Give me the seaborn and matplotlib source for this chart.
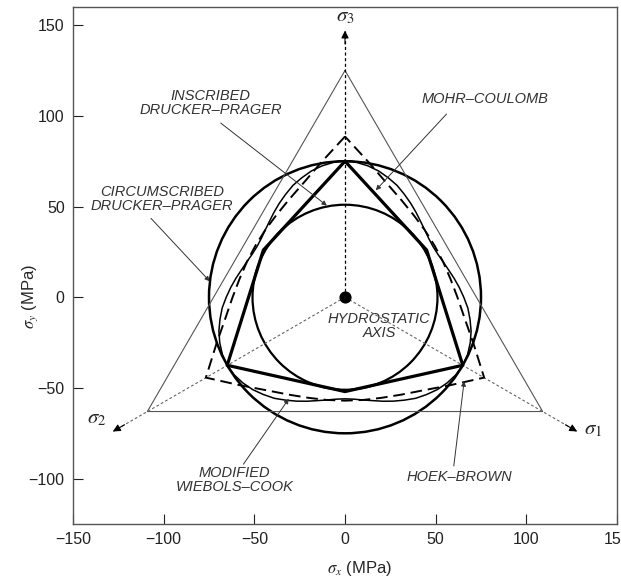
import numpy as np
import pandas as pd
import matplotlib
matplotlib.use('Agg')
import matplotlib.pyplot as plt
from matplotlib.patches import Circle
import seaborn as sns

# Дані (МПа)
# тонкий трикутник
tri_x = [0, -109, 109, 0]
tri_y = [125, -63, -63, 125]

# Мор-Кулон: кути (град) та радіуси вершин шестикутника
mc_ang = [90, 150, 210, 270, 330, 390, 450]
mc_r = [75, 52, 75, 52, 75, 52, 75]

# радіуси кругів Друкера-Прагера
dp_circ_r = 75
dp_insc_r = 51

# модифікований Вібольс-Кук: радіуси через 5 град, від вершини до вершини
mwc_ang = list(range(90, 451, 5))
mwc_sector = [75, 74.6, 73.5, 72, 70, 68, 65.5, 63.2, 61, 59, 57.5, 56.4,
              56, 56.4, 57.5, 59, 61, 63.2, 65.5, 68, 70, 72, 73.5, 74.6]
mwc_r = mwc_sector * 3 + [75]

# Хук-Браун: радіуси через 10 град
hb_ang = list(range(90, 451, 10))
hb_sector = [88.6, 75.5, 67, 62, 59, 57.5, 57, 57.5, 59, 62, 67, 75.5]
hb_r = hb_sector * 3 + [88.6]

# осі головних напружень (кінці стрілок)
axis_names = ['$\\sigma_3$', '$\\sigma_1$', '$\\sigma_2$']
axis_tip_x = [0, 128, -128]
axis_tip_y = [147, -74, -74]
axis_lab_x = [0, 137, -137]
axis_lab_y = [155, -73, -67]

# підписи та виноски
labels = ['INSCRIBED\nDRUCKER\u2013PRAGER', 'CIRCUMSCRIBED\nDRUCKER\u2013PRAGER',
          'MOHR\u2013COULOMB', 'MODIFIED\nWIEBOLS\u2013COOK', 'HOEK\u2013BROWN']
label_x = [-74, -101, 77, -61, 63]
label_y = [107, 54, 109.5, -101, -99]
lead_from_x = [-68.5, -107, 56, -56, 60]
lead_from_y = [96, 43.5, 101, -92, -93]
lead_to_x = [-10, -74.6, 17, -31, 65.7]
lead_to_y = [50.5, 8.8, 59, -56, -46.3]


def polar_df(ang, r):
    a = np.deg2rad(np.array(ang, dtype=float))
    r = np.array(r, dtype=float)
    return pd.DataFrame({'x': r * np.cos(a), 'y': r * np.sin(a)})


sns.set_theme(style='ticks')
plt.rcParams['font.family'] = ['Liberation Sans', 'DejaVu Sans']
plt.rcParams['mathtext.fontset'] = 'stix'

fig = plt.figure(figsize=(6.21, 5.80), dpi=100)
ax = fig.add_axes([73 / 621, 1 - 524 / 580, 544 / 621, 517 / 580])

# тонкий трикутник
sns.lineplot(x=tri_x, y=tri_y, sort=False, estimator=None, color='#555555',
             lw=0.8, ax=ax)

# гідростатичні осі
ax.plot([0, axis_tip_x[0]], [0, axis_tip_y[0]], color='black', lw=0.9,
        linestyle=(0, (2.5, 2)))
for tx, ty in zip(axis_tip_x[1:], axis_tip_y[1:]):
    ax.plot([0, tx], [0, ty], color='#666666', lw=0.8, linestyle=(0, (2.5, 2)))
for tx, ty in zip(axis_tip_x, axis_tip_y):
    ax.annotate('', xy=(tx, ty), xytext=(tx * 0.95, ty * 0.95),
                arrowprops=dict(arrowstyle='-|>', color='black', lw=0.8,
                                mutation_scale=11, shrinkA=0, shrinkB=0))
for name, lx, ly in zip(axis_names, axis_lab_x, axis_lab_y):
    ax.text(lx, ly, name, fontsize=15, ha='center', va='center')

# круги Друкера-Прагера
ax.add_patch(Circle((0, 0), dp_circ_r, fill=False, ec='black', lw=1.8))
ax.add_patch(Circle((0, 0), dp_insc_r, fill=False, ec='black', lw=1.6))

# модифікований Вібольс-Кук
mwc = polar_df(mwc_ang, mwc_r)
sns.lineplot(data=mwc, x='x', y='y', sort=False, estimator=None,
             color='black', lw=1.1, ax=ax)

# Хук-Браун
hb = polar_df(hb_ang, hb_r)
sns.lineplot(data=hb, x='x', y='y', sort=False, estimator=None,
             color='black', lw=1.4, linestyle=(0, (6, 3)), ax=ax)

# Мор-Кулон
mc = polar_df(mc_ang, mc_r)
sns.lineplot(data=mc, x='x', y='y', sort=False, estimator=None,
             color='black', lw=2.3, ax=ax)

# точка на гідростатичній осі
ax.scatter([0], [0], s=60, color='black', zorder=5)
ax.text(18.8, -16, 'HYDROSTATIC\nAXIS', fontsize=10.5, style='italic',
        color='#333333', ha='center', va='center', linespacing=1.0)

# підписи з виносками
for txt, lx, ly, fx, fy, tx, ty in zip(labels, label_x, label_y, lead_from_x,
                                       lead_from_y, lead_to_x, lead_to_y):
    ax.text(lx, ly, txt, fontsize=10.5, style='italic', color='#333333',
            ha='center', va='center', linespacing=1.0)
    ax.annotate('', xy=(tx, ty), xytext=(fx, fy),
                arrowprops=dict(arrowstyle='-|>', color='#333333', lw=0.7,
                                mutation_scale=7, shrinkA=0, shrinkB=0))

ax.set_xlim(-150, 150)
ax.set_ylim(-125, 160)
ax.set_xticks([-150, -100, -50, 0, 50, 100, 150])
ax.set_yticks([-100, -50, 0, 50, 100, 150])
ax.tick_params(direction='in', length=7, width=0.8, labelsize=11.5,
               colors='#222222', pad=6)
for s in ax.spines.values():
    s.set_color('#555555')
    s.set_linewidth(1.0)
ax.set_xlabel('$\\sigma_x$ (MPa)', fontsize=12)
ax.set_ylabel('$\\sigma_y$ (MPa)', fontsize=12)
ax.xaxis.set_label_coords(0.527, -0.068)
ax.yaxis.set_label_coords(-0.06, 0.44)

fig.savefig('out.png', dpi=100)
